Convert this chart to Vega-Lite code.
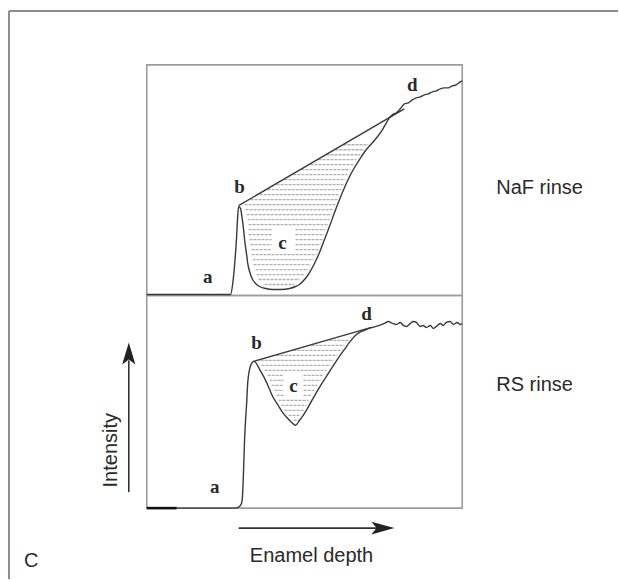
{
  "$schema": "https://vega.github.io/schema/vega-lite/v6.json",
  "width": 619,
  "height": 580,
  "autosize": {"type": "fit", "contains": "padding"},
  "padding": 0,
  "background": "white",
  "config": {"view": {"stroke": null}},
  "datasets": {
    "frame": [
      {"x": 9, "y": 11, "x2": 619, "y2": 11},
      {"x": 9, "y": 11, "x2": 9, "y2": 580}
    ],
    "panels": [
      {"panel": "NaF rinse", "x": 147, "x2": 463, "y": 65, "y2": 296},
      {"panel": "RS rinse", "x": 147, "x2": 463, "y": 296, "y2": 509}
    ],
    "curves": [
      {"s": "NaF", "x": 147, "y": 295}, {"s": "NaF", "x": 231, "y": 295}, {"s": "NaF", "x": 233, "y": 285}, {"s": "NaF", "x": 235, "y": 265},
      {"s": "NaF", "x": 237, "y": 237}, {"s": "NaF", "x": 238, "y": 218}, {"s": "NaF", "x": 239, "y": 207}, {"s": "NaF", "x": 241, "y": 209},
      {"s": "NaF", "x": 242, "y": 215}, {"s": "NaF", "x": 244, "y": 230}, {"s": "NaF", "x": 245, "y": 240}, {"s": "NaF", "x": 247, "y": 255},
      {"s": "NaF", "x": 248, "y": 263}, {"s": "NaF", "x": 250, "y": 272}, {"s": "NaF", "x": 253, "y": 280}, {"s": "NaF", "x": 256, "y": 284},
      {"s": "NaF", "x": 260, "y": 287}, {"s": "NaF", "x": 266, "y": 289}, {"s": "NaF", "x": 273, "y": 290}, {"s": "NaF", "x": 282, "y": 290},
      {"s": "NaF", "x": 290, "y": 289}, {"s": "NaF", "x": 296, "y": 287}, {"s": "NaF", "x": 300, "y": 285}, {"s": "NaF", "x": 305, "y": 280},
      {"s": "NaF", "x": 310, "y": 273}, {"s": "NaF", "x": 315, "y": 264}, {"s": "NaF", "x": 320, "y": 253}, {"s": "NaF", "x": 325, "y": 240},
      {"s": "NaF", "x": 330, "y": 227}, {"s": "NaF", "x": 335, "y": 213}, {"s": "NaF", "x": 340, "y": 200}, {"s": "NaF", "x": 345, "y": 188},
      {"s": "NaF", "x": 350, "y": 177}, {"s": "NaF", "x": 355, "y": 168}, {"s": "NaF", "x": 360, "y": 160}, {"s": "NaF", "x": 366, "y": 151},
      {"s": "NaF", "x": 373, "y": 143}, {"s": "NaF", "x": 378, "y": 137}, {"s": "NaF", "x": 383, "y": 130}, {"s": "NaF", "x": 387, "y": 123},
      {"s": "NaF", "x": 390, "y": 118}, {"s": "NaF", "x": 393, "y": 115}, {"s": "NaF", "x": 397, "y": 113}, {"s": "NaF", "x": 401, "y": 109},
      {"s": "NaF", "x": 405, "y": 104}, {"s": "NaF", "x": 409, "y": 103}, {"s": "NaF", "x": 413, "y": 100}, {"s": "NaF", "x": 417, "y": 98},
      {"s": "NaF", "x": 421, "y": 97}, {"s": "NaF", "x": 425, "y": 95}, {"s": "NaF", "x": 429, "y": 94}, {"s": "NaF", "x": 433, "y": 92},
      {"s": "NaF", "x": 437, "y": 91}, {"s": "NaF", "x": 441, "y": 89}, {"s": "NaF", "x": 445, "y": 88}, {"s": "NaF", "x": 449, "y": 88},
      {"s": "NaF", "x": 453, "y": 86}, {"s": "NaF", "x": 457, "y": 85}, {"s": "NaF", "x": 461, "y": 82}, {"s": "NaF", "x": 463, "y": 81},
      {"s": "RS", "x": 177, "y": 509}, {"s": "RS", "x": 235, "y": 509}, {"s": "RS", "x": 239, "y": 508}, {"s": "RS", "x": 242, "y": 504},
      {"s": "RS", "x": 243, "y": 495}, {"s": "RS", "x": 244, "y": 470}, {"s": "RS", "x": 245, "y": 440}, {"s": "RS", "x": 246, "y": 420},
      {"s": "RS", "x": 247, "y": 405}, {"s": "RS", "x": 248, "y": 385}, {"s": "RS", "x": 250, "y": 370}, {"s": "RS", "x": 252, "y": 364},
      {"s": "RS", "x": 254, "y": 362}, {"s": "RS", "x": 256, "y": 363}, {"s": "RS", "x": 258, "y": 366}, {"s": "RS", "x": 260, "y": 370},
      {"s": "RS", "x": 264, "y": 377}, {"s": "RS", "x": 267, "y": 383}, {"s": "RS", "x": 270, "y": 390}, {"s": "RS", "x": 273, "y": 397},
      {"s": "RS", "x": 278, "y": 405}, {"s": "RS", "x": 283, "y": 413}, {"s": "RS", "x": 288, "y": 419}, {"s": "RS", "x": 292, "y": 423},
      {"s": "RS", "x": 296, "y": 426}, {"s": "RS", "x": 300, "y": 421}, {"s": "RS", "x": 303, "y": 417}, {"s": "RS", "x": 308, "y": 409},
      {"s": "RS", "x": 313, "y": 400}, {"s": "RS", "x": 320, "y": 388}, {"s": "RS", "x": 327, "y": 377}, {"s": "RS", "x": 334, "y": 366},
      {"s": "RS", "x": 340, "y": 357}, {"s": "RS", "x": 345, "y": 350}, {"s": "RS", "x": 350, "y": 343}, {"s": "RS", "x": 357, "y": 335},
      {"s": "RS", "x": 362, "y": 332}, {"s": "RS", "x": 367, "y": 330}, {"s": "RS", "x": 373, "y": 328}, {"s": "RS", "x": 380, "y": 326},
      {"s": "RS", "x": 385, "y": 324}, {"s": "RS", "x": 389, "y": 322}, {"s": "RS", "x": 393, "y": 324}, {"s": "RS", "x": 397, "y": 325},
      {"s": "RS", "x": 401, "y": 323}, {"s": "RS", "x": 404, "y": 326}, {"s": "RS", "x": 407, "y": 327}, {"s": "RS", "x": 411, "y": 324},
      {"s": "RS", "x": 414, "y": 322}, {"s": "RS", "x": 417, "y": 323}, {"s": "RS", "x": 421, "y": 327}, {"s": "RS", "x": 424, "y": 326},
      {"s": "RS", "x": 427, "y": 328}, {"s": "RS", "x": 431, "y": 326}, {"s": "RS", "x": 434, "y": 329}, {"s": "RS", "x": 437, "y": 327},
      {"s": "RS", "x": 441, "y": 324}, {"s": "RS", "x": 444, "y": 326}, {"s": "RS", "x": 447, "y": 323}, {"s": "RS", "x": 451, "y": 322},
      {"s": "RS", "x": 454, "y": 325}, {"s": "RS", "x": 458, "y": 323}, {"s": "RS", "x": 461, "y": 325}, {"s": "RS", "x": 463, "y": 324}
    ],
    "chords": [
      {"s": "NaF", "x": 239, "y": 206, "x2": 405, "y2": 109},
      {"s": "RS", "x": 254, "y": 362, "x2": 372, "y2": 328}
    ],
    "baseline": [
      {"x": 147, "y": 509, "x2": 177, "y2": 509}
    ],
    "hatch": [
      {"x": 344, "x2": 369, "y": 145}, {"x": 336, "x2": 365, "y": 150}, {"x": 327, "x2": 361, "y": 155},
      {"x": 319, "x2": 357, "y": 160}, {"x": 311, "x2": 354, "y": 165}, {"x": 302, "x2": 351, "y": 170},
      {"x": 294, "x2": 348, "y": 175}, {"x": 285, "x2": 346, "y": 180}, {"x": 277, "x2": 344, "y": 185},
      {"x": 268, "x2": 342, "y": 190}, {"x": 260, "x2": 340, "y": 195}, {"x": 251, "x2": 338, "y": 200},
      {"x": 245, "x2": 336, "y": 205}, {"x": 246, "x2": 334, "y": 210}, {"x": 247, "x2": 332, "y": 215},
      {"x": 248, "x2": 330, "y": 220}, {"x": 249, "x2": 328, "y": 225},
      {"x": 249, "x2": 272, "y": 230}, {"x": 296, "x2": 326, "y": 230},
      {"x": 249, "x2": 272, "y": 235}, {"x": 296, "x2": 325, "y": 235},
      {"x": 250, "x2": 272, "y": 240}, {"x": 296, "x2": 323, "y": 240},
      {"x": 251, "x2": 272, "y": 245}, {"x": 296, "x2": 321, "y": 245},
      {"x": 252, "x2": 272, "y": 250}, {"x": 296, "x2": 319, "y": 250},
      {"x": 252, "x2": 317, "y": 255}, {"x": 253, "x2": 314, "y": 260}, {"x": 254, "x2": 311, "y": 265},
      {"x": 256, "x2": 309, "y": 270}, {"x": 257, "x2": 305, "y": 275}, {"x": 259, "x2": 300, "y": 280},
      {"x": 265, "x2": 295, "y": 285},
      {"x": 330, "x2": 349, "y": 341}, {"x": 312, "x2": 345, "y": 346}, {"x": 294, "x2": 341, "y": 351},
      {"x": 277, "x2": 338, "y": 356}, {"x": 261, "x2": 334, "y": 361}, {"x": 262, "x2": 331, "y": 366},
      {"x": 265, "x2": 327, "y": 371},
      {"x": 268, "x2": 284, "y": 376}, {"x": 304, "x2": 324, "y": 376},
      {"x": 270, "x2": 284, "y": 381}, {"x": 304, "x2": 321, "y": 381},
      {"x": 272, "x2": 284, "y": 386}, {"x": 304, "x2": 318, "y": 386},
      {"x": 275, "x2": 284, "y": 391}, {"x": 304, "x2": 315, "y": 391},
      {"x": 277, "x2": 284, "y": 396}, {"x": 304, "x2": 312, "y": 396},
      {"x": 279, "x2": 309, "y": 401}, {"x": 282, "x2": 307, "y": 406}, {"x": 285, "x2": 304, "y": 411},
      {"x": 289, "x2": 301, "y": 416}, {"x": 294, "x2": 298, "y": 421}
    ],
    "letters": [
      {"t": "a", "x": 208, "y": 277}, {"t": "b", "x": 240, "y": 187}, {"t": "c", "x": 283, "y": 243}, {"t": "d", "x": 413, "y": 85},
      {"t": "a", "x": 215, "y": 488}, {"t": "b", "x": 257, "y": 344}, {"t": "c", "x": 294, "y": 387}, {"t": "d", "x": 367, "y": 315}
    ],
    "labels": [
      {"t": "NaF rinse", "x": 497, "y": 188},
      {"t": "RS rinse", "x": 497, "y": 386},
      {"t": "C", "x": 24, "y": 562}
    ],
    "xlabel": [{"t": "Enamel depth", "x": 312, "y": 557}],
    "ylabel": [{"t": "Intensity", "x": 111, "y": 451}],
    "shafts": [
      {"x": 239, "y": 529, "x2": 385, "y2": 529},
      {"x": 129, "y": 493, "x2": 129, "y2": 361}
    ],
    "headRight": [{"x": 383.5, "y": 529}],
    "headUp": [{"x": 129, "y": 354}]
  },
  "encoding": {
    "x": {"field": "x", "type": "quantitative", "scale": {"domain": [0, 619], "nice": false, "zero": false}, "axis": null},
    "y": {"field": "y", "type": "quantitative", "scale": {"domain": [580, 0], "nice": false, "zero": false}, "axis": null}
  },
  "layer": [
    {
      "data": {"name": "frame"},
      "mark": {"type": "rule", "color": "#8c8c8c", "strokeWidth": 2},
      "encoding": {"x2": {"field": "x2"}, "y2": {"field": "y2"}}
    },
    {
      "data": {"name": "hatch"},
      "mark": {"type": "rule", "color": "#b0b0b0", "strokeWidth": 1.3, "strokeDash": [3, 1]},
      "encoding": {"x2": {"field": "x2"}, "y2": {"field": "y"}}
    },
    {
      "data": {"name": "panels"},
      "mark": {"type": "rect", "fill": null, "filled": false, "stroke": "#9c9c9c", "strokeWidth": 1.6},
      "encoding": {"x2": {"field": "x2"}, "y2": {"field": "y2"}}
    },
    {
      "data": {"name": "chords"},
      "mark": {"type": "rule", "color": "#3c3c3c", "strokeWidth": 1.4},
      "encoding": {"x2": {"field": "x2"}, "y2": {"field": "y2"}}
    },
    {
      "data": {"name": "curves"},
      "mark": {"type": "line", "color": "#3a3a3a", "strokeWidth": 1.4, "interpolate": "monotone"},
      "encoding": {"detail": {"field": "s"}}
    },
    {
      "data": {"name": "baseline"},
      "mark": {"type": "rule", "color": "#111111", "strokeWidth": 2.6},
      "encoding": {"x2": {"field": "x2"}, "y2": {"field": "y2"}}
    },
    {
      "data": {"name": "letters"},
      "mark": {"type": "text", "font": "Liberation Serif", "fontSize": 19, "fontWeight": "bold", "color": "#2a2a2a", "align": "center", "baseline": "middle"},
      "encoding": {"text": {"field": "t"}}
    },
    {
      "data": {"name": "labels"},
      "mark": {"type": "text", "font": "Liberation Sans", "fontSize": 20, "color": "#2a2a2a", "align": "left", "baseline": "middle"},
      "encoding": {"text": {"field": "t"}}
    },
    {
      "data": {"name": "xlabel"},
      "mark": {"type": "text", "font": "Liberation Sans", "fontSize": 20, "color": "#2a2a2a", "align": "center", "baseline": "middle"},
      "encoding": {"text": {"field": "t"}}
    },
    {
      "data": {"name": "ylabel"},
      "mark": {"type": "text", "font": "Liberation Sans", "fontSize": 20, "color": "#2a2a2a", "align": "center", "baseline": "middle", "angle": 270},
      "encoding": {"text": {"field": "t"}}
    },
    {
      "data": {"name": "shafts"},
      "mark": {"type": "rule", "color": "#333333", "strokeWidth": 1.6},
      "encoding": {"x2": {"field": "x2"}, "y2": {"field": "y2"}}
    },
    {
      "data": {"name": "headRight"},
      "mark": {"type": "point", "filled": true, "color": "#222222", "opacity": 1, "size": 529, "shape": "M1,0 L-1,-0.55 L-0.55,0 L-1,0.55 Z"}
    },
    {
      "data": {"name": "headUp"},
      "mark": {"type": "point", "filled": true, "color": "#222222", "opacity": 1, "size": 484, "shape": "M0,-1 L-0.6,1 L0,0.55 L0.6,1 Z"}
    }
  ]
}
